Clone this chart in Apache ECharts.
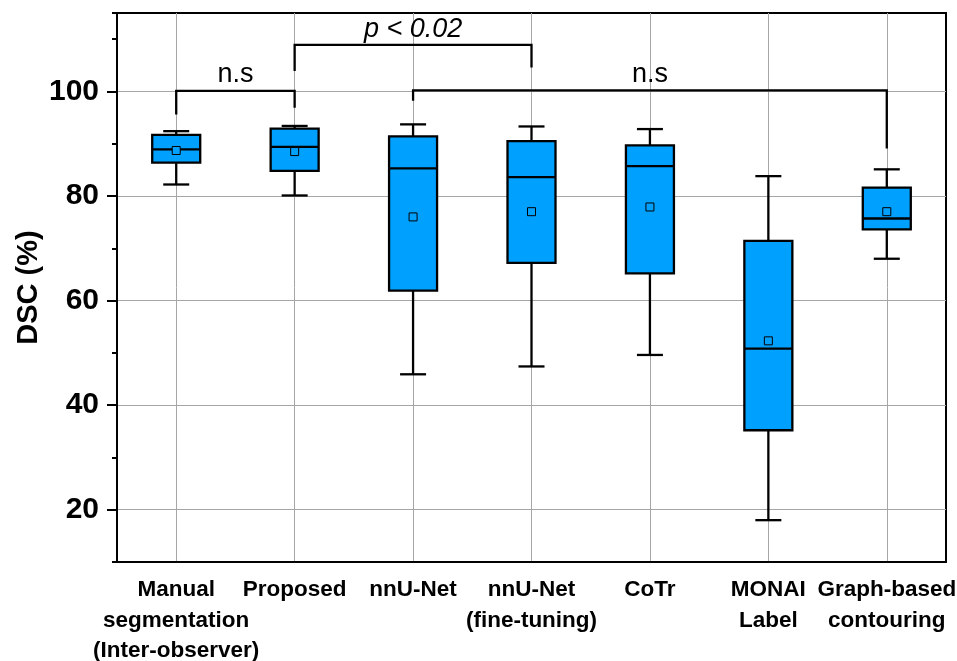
<!DOCTYPE html>
<html>
<head>
<meta charset="utf-8">
<script src="https://cdn.jsdelivr.net/npm/echarts@6/dist/echarts.min.js"></script>
<style>
html, body { margin: 0; padding: 0; background: #fff; }
#chart { width: 957px; height: 661px; }
</style>
</head>
<body>
<div id="chart"></div>
<script>
// values (DSC, %)
var categories = ['Manual\nsegmentation\n(Inter-observer)', 'Proposed', 'nnU-Net', 'nnU-Net\n(fine-tuning)', 'CoTr', 'MONAI\nLabel', 'Graph-based\ncontouring'];
var whiskerLow  = [82.2, 80.1, 45.9, 47.4, 49.6, 18.0, 68.0];
var q1          = [86.4, 84.8, 61.9, 67.2, 65.2, 35.2, 73.6];
var median      = [88.9, 89.4, 85.3, 83.6, 85.7, 50.8, 75.7];
var q3          = [91.7, 92.9, 91.4, 90.5, 89.7, 71.4, 81.6];
var whiskerHigh = [92.4, 93.4, 93.7, 93.3, 92.8, 83.8, 85.1];
var means       = [88.7, 88.5, 76.0, 77.0, 77.9, 52.3, 77.0];
var majorTicks  = [20, 40, 60, 80, 100];

// significance brackets (category index from/to, y of bar, y where legs end)
var bracketFrom  = [0, 1, 2];
var bracketTo    = [1, 3, 6];
var bracketTop   = [100.1, 108.9, 100.2];
var legLeft      = [95.6, 103.9, 98.2];
var legRight     = [96.9, 104.6, 89.1];
var bracketText  = ['n.s', 'p < 0.02', 'n.s'];

var BLUE = '#00A0FF';
var FONT = 'Liberation Sans, Arial, sans-serif';

var boxData = categories.map(function (c, i) {
    return [i, whiskerLow[i], q1[i], median[i], q3[i], whiskerHigh[i]];
});
var meanData = means.map(function (m, i) { return [i, m]; });
var bracketData = bracketFrom.map(function (f, i) {
    return [f, bracketTo[i], bracketTop[i], legLeft[i], legRight[i]];
});

function renderBox(params, api) {
    var i = api.value(0);
    var lo = api.coord([i, api.value(1)]);
    var b1 = api.coord([i, api.value(2)]);
    var md = api.coord([i, api.value(3)]);
    var b3 = api.coord([i, api.value(4)]);
    var hi = api.coord([i, api.value(5)]);
    var x = lo[0], hw = 24, cw = 13;
    var ln = { stroke: '#000', lineWidth: 2.3 };
    return {
        type: 'group',
        children: [
            { type: 'line', shape: { x1: x, y1: hi[1], x2: x, y2: b3[1] }, style: ln },
            { type: 'line', shape: { x1: x, y1: b1[1], x2: x, y2: lo[1] }, style: ln },
            { type: 'line', shape: { x1: x - cw, y1: hi[1], x2: x + cw, y2: hi[1] }, style: ln },
            { type: 'line', shape: { x1: x - cw, y1: lo[1], x2: x + cw, y2: lo[1] }, style: ln },
            { type: 'rect', shape: { x: x - hw, y: b3[1], width: hw * 2, height: b1[1] - b3[1] },
              style: { fill: BLUE, stroke: '#000', lineWidth: 2.3 } },
            { type: 'line', shape: { x1: x - hw, y1: md[1], x2: x + hw, y2: md[1] }, style: ln }
        ]
    };
}

function renderBracket(params, api) {
    var a = api.coord([api.value(0), api.value(2)]);
    var b = api.coord([api.value(1), api.value(2)]);
    var la = api.coord([api.value(0), api.value(3)]);
    var rb = api.coord([api.value(1), api.value(4)]);
    var txt = bracketText[params.dataIndex];
    var italic = txt.charAt(0) === 'p';
    return {
        type: 'group',
        children: [
            { type: 'polyline', shape: { points: [la, a, b, rb] },
              style: { stroke: '#000', lineWidth: 2.3, fill: null } },
            { type: 'text', x: (a[0] + b[0]) / 2, y: a[1] - (italic ? 15 : 16),
              style: { text: txt, fill: '#000', fontSize: 27, fontFamily: FONT,
                       fontStyle: italic ? 'italic' : 'normal',
                       align: 'center', verticalAlign: 'middle' } }
        ]
    };
}

var chart = echarts.init(document.getElementById('chart'));
var option = {
    animation: false,
    grid: {
        left: 117, right: 11, top: 13, bottom: 99,
        outerBoundsMode: 'none',
        show: true, borderColor: '#000', borderWidth: 2
    },
    xAxis: {
        type: 'category',
        data: categories,
        axisLine: { onZero: false, lineStyle: { color: '#000', width: 2 } },
        axisTick: { alignWithLabel: true, length: 10, lineStyle: { color: '#000', width: 2 } },
        axisLabel: {
            interval: 0, margin: 13, color: '#000', fontSize: 22.5, fontWeight: 'bold',
            fontFamily: FONT, lineHeight: 30.5
        },
        splitLine: { show: true, alignWithLabel: true, lineStyle: { color: '#a6a6a6', width: 1 } }
    },
    yAxis: [
        {
            type: 'value', min: 10, max: 115, interval: 10, position: 'left',
            name: 'DSC (%)', nameLocation: 'middle', nameGap: 74,
            nameTextStyle: { color: '#000', fontSize: 29, fontWeight: 'bold', fontFamily: FONT },
            axisLine: { show: true, onZero: false, lineStyle: { color: '#000', width: 2 } },
            axisTick: { show: true, length: 5, lineStyle: { color: '#000', width: 2 } },
            axisLabel: { show: false },
            splitLine: { show: false }
        },
        {
            type: 'value', min: 10, max: 115, position: 'left',
            axisLine: { show: false },
            axisTick: { show: true, customValues: majorTicks, length: 10, lineStyle: { color: '#000', width: 2 } },
            axisLabel: { customValues: majorTicks, margin: 18, color: '#000', fontSize: 30,
                         fontWeight: 'bold', fontFamily: FONT },
            splitLine: { show: true, lineStyle: { color: '#a6a6a6', width: 1 } }
        }
    ],
    series: [
        {
            type: 'custom', name: 'box', renderItem: renderBox, data: boxData,
            encode: { x: 0, y: [1, 2, 3, 4, 5] }, z: 5
        },
        {
            type: 'scatter', name: 'mean', data: meanData, symbol: 'rect', symbolSize: 8,
            itemStyle: { color: BLUE, borderColor: '#000', borderWidth: 1, opacity: 1 }, z: 10
        },
        {
            type: 'custom', name: 'bracket', renderItem: renderBracket, data: bracketData,
            encode: { x: [0, 1], y: [2, 3, 4] }, z: 6
        }
    ]
};
chart.setOption(option);
</script>
</body>
</html>
